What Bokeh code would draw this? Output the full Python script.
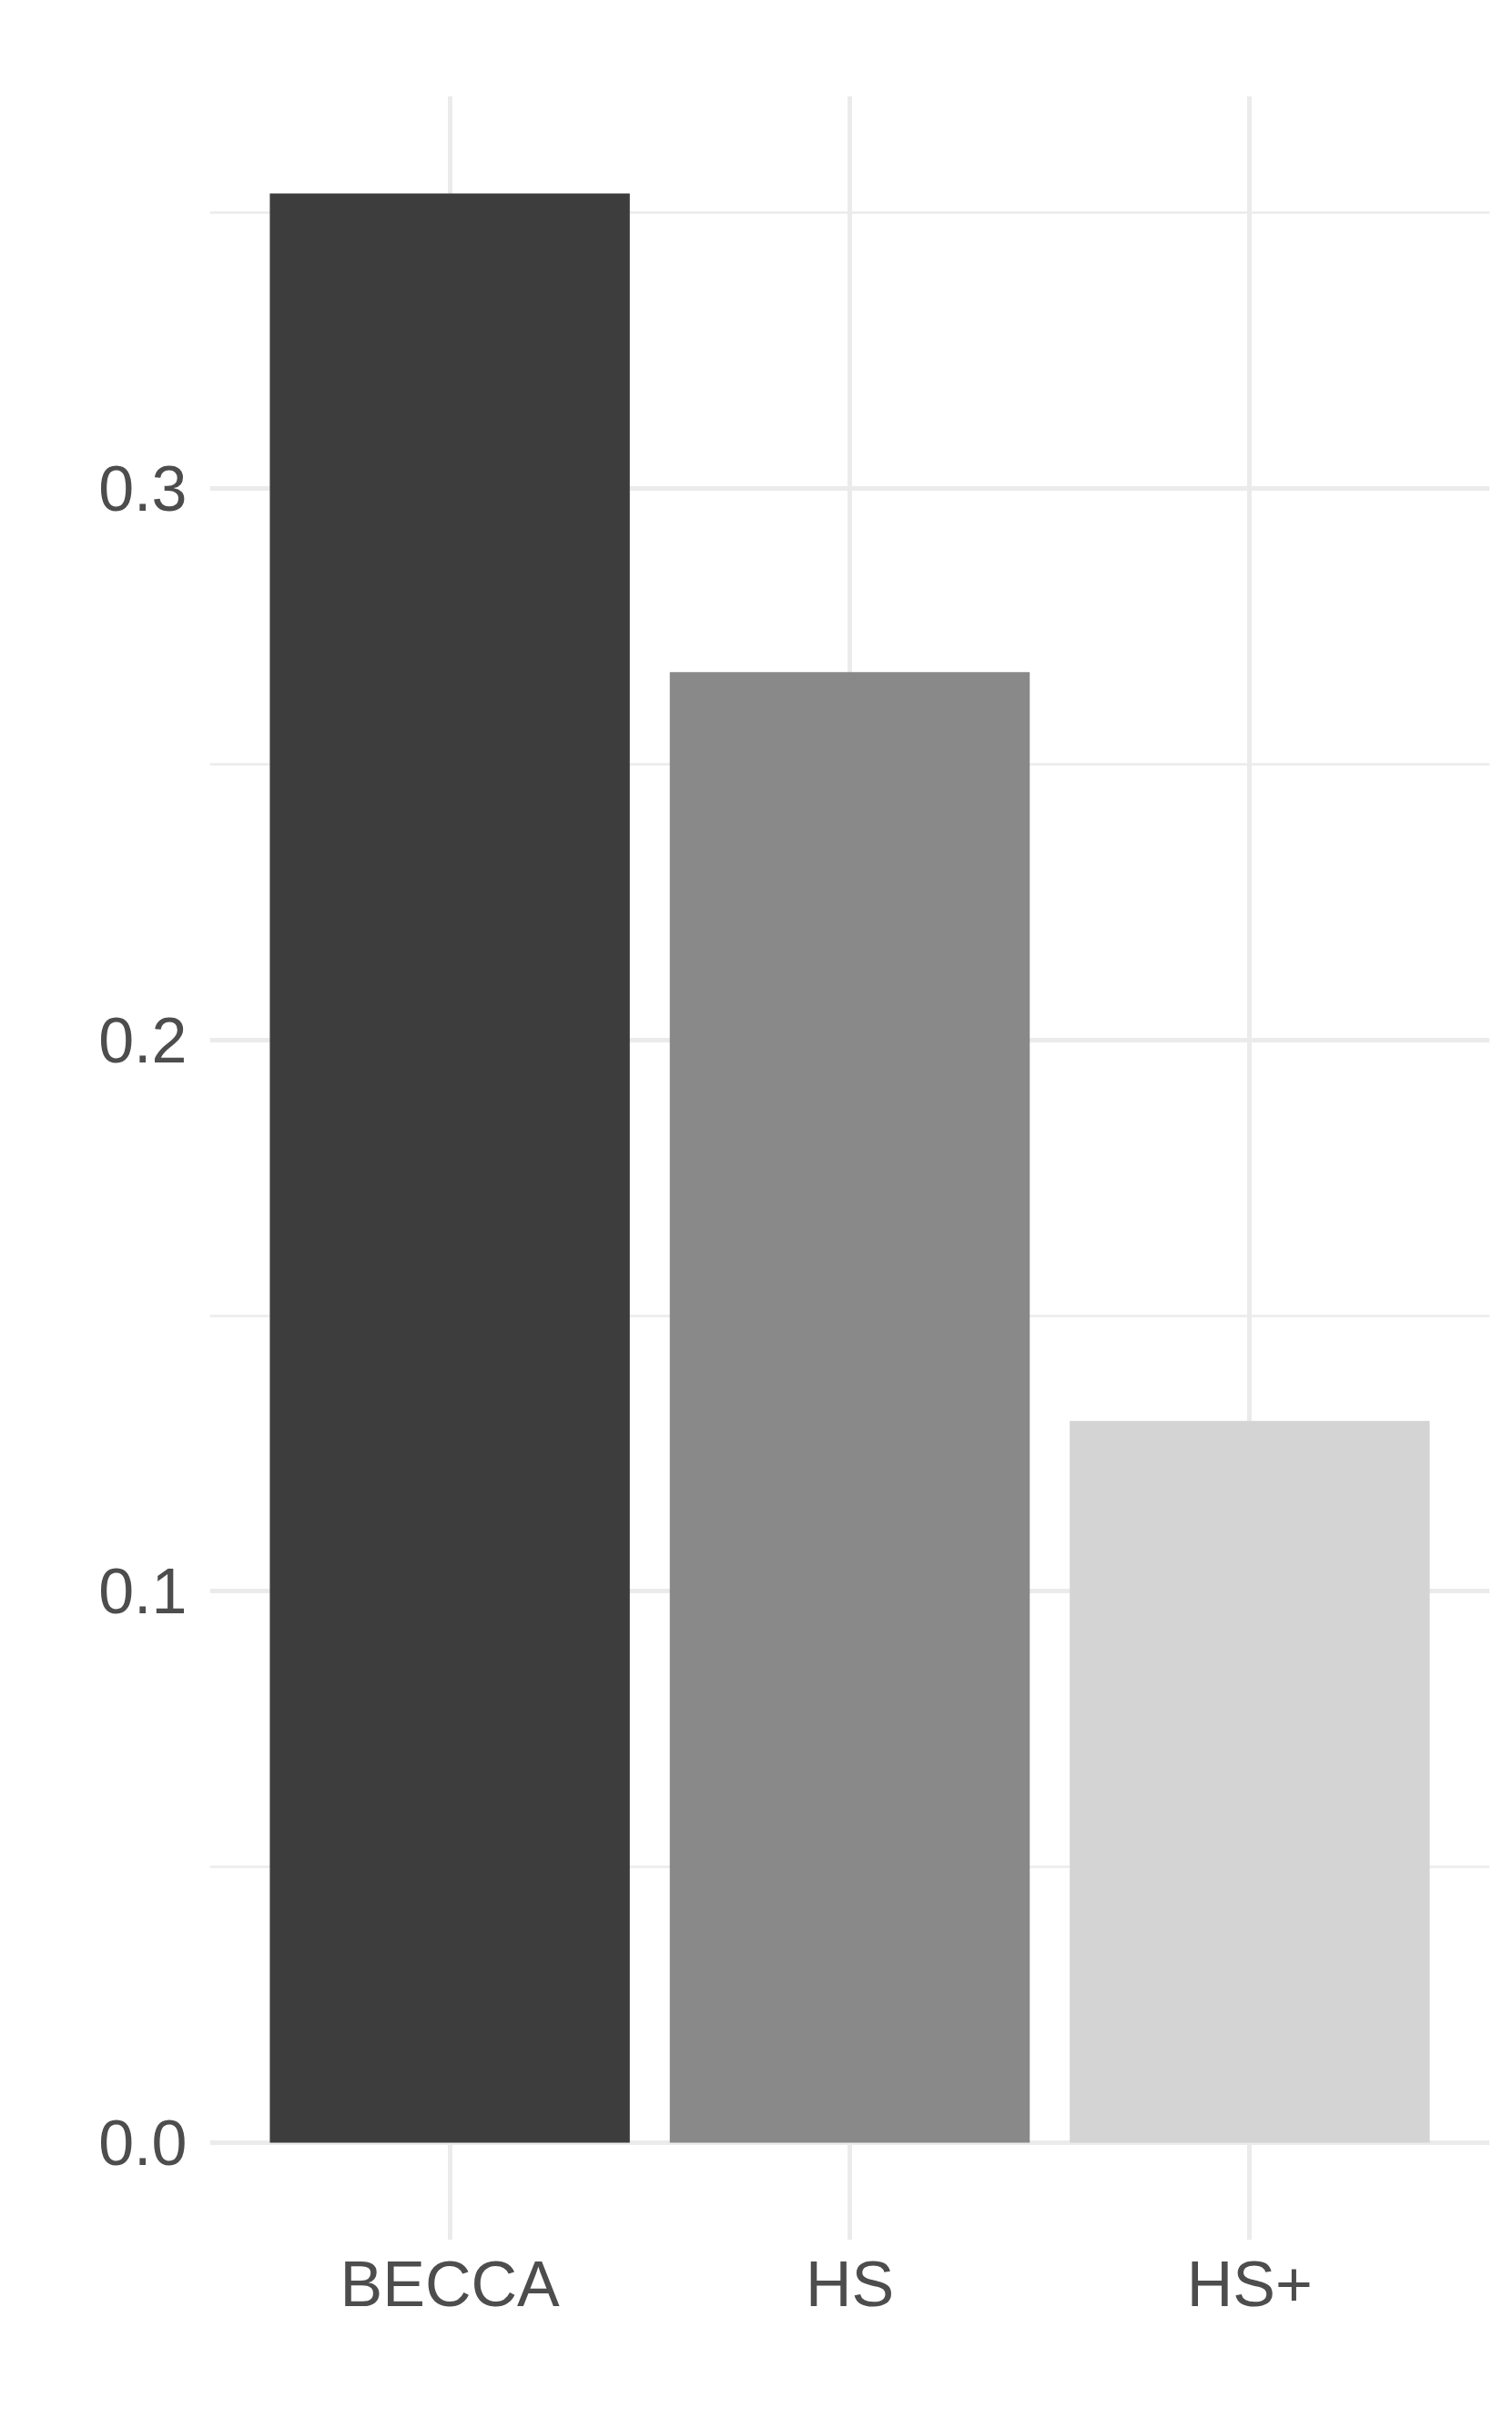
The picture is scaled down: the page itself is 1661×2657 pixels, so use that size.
from bokeh.plotting import figure
from bokeh.models import FactorRange, Range1d, FixedTicker, ColumnDataSource
from bokeh.embed import file_html
from bokeh.resources import INLINE

# Data
categories = ["BECCA", "HS", "HS+"]
values = [0.3535, 0.2667, 0.1309]
colors = ["#3D3D3D", "#898989", "#D4D4D4"]
y_ticks = [0.0, 0.1, 0.2, 0.3]
y_minor = [0.05, 0.15, 0.25, 0.35]
y_labels = {0.0: "0.0", 0.1: "0.1", 0.2: "0.2", 0.3: "0.3"}

ymax = max(values)
pad = 0.05 * ymax

src = ColumnDataSource(dict(cat=categories, val=values, col=colors))

W, H = 1653, 2649
p = figure(
    width=W, height=H,
    x_range=FactorRange(factors=categories, range_padding=0.2 / 3, range_padding_units="percent"),
    y_range=Range1d(-pad, ymax + pad),
    output_backend="svg", toolbar_location=None,
    min_border_left=230, min_border_right=17, min_border_top=105, min_border_bottom=189,
)
p.outline_line_color = None
p.background_fill_color = "white"
p.border_fill_color = "white"

p.vbar(x="cat", top="val", bottom=0, width=0.9, fill_color="col", line_color=None, source=src)

# grids
p.xgrid.grid_line_color = "#EBEBEB"
p.xgrid.grid_line_width = 5
p.ygrid.ticker = FixedTicker(ticks=y_ticks, minor_ticks=y_minor)
p.ygrid.grid_line_color = "#EBEBEB"
p.ygrid.grid_line_width = 5
p.ygrid.minor_grid_line_color = "#EBEBEB"
p.ygrid.minor_grid_line_width = 2.7

# axes
for ax in (p.xaxis[0], p.yaxis[0]):
    ax.axis_line_color = None
    ax.major_tick_line_color = None
    ax.minor_tick_line_color = None
    ax.major_tick_out = 0
    ax.major_tick_in = 0
    ax.minor_tick_out = 0
    ax.major_label_text_font = "Liberation Sans"
    ax.major_label_text_font_size = "70px"
    ax.major_label_text_color = "#4D4D4D"

p.yaxis[0].ticker = FixedTicker(ticks=y_ticks, minor_ticks=y_minor)
p.yaxis[0].major_label_overrides = y_labels
p.yaxis[0].major_label_standoff = 25
p.xaxis[0].major_label_standoff = 9

open("out.html", "w").write(file_html(p, INLINE))
